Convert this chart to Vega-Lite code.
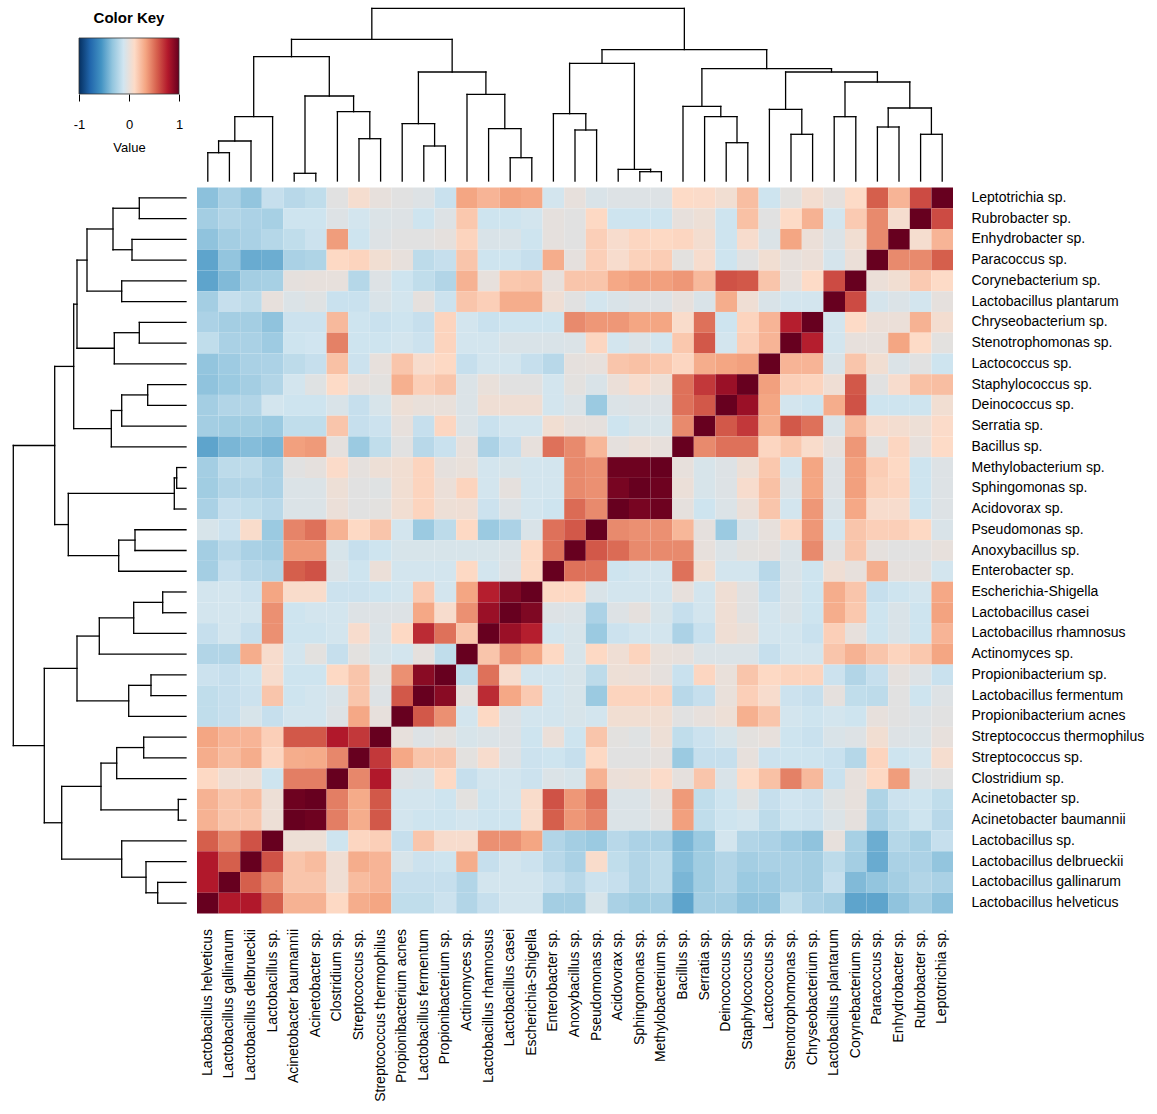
{
  "$schema": "https://vega.github.io/schema/vega-lite/v6.json",
  "padding": {"left": 12, "top": 7, "right": 5, "bottom": 5},
  "background": "white",
  "config": {"view": {"stroke": null}, "font": "Liberation Sans"},
  "columns": 2,
  "align": "each",
  "bounds": "flush",
  "spacing": {"row": 6.5, "column": 11},
  "datasets": {
    "cols": [
      {"k":"c01","col":"Lactobacillus helveticus"},{"k":"c02","col":"Lactobacillus gallinarum"},{"k":"c03","col":"Lactobacillus delbrueckii"},{"k":"c04","col":"Lactobacillus sp."},{"k":"c05","col":"Acinetobacter baumannii"},{"k":"c06","col":"Acinetobacter sp."},{"k":"c07","col":"Clostridium sp."},{"k":"c08","col":"Streptococcus sp."},{"k":"c09","col":"Streptococcus thermophilus"},{"k":"c10","col":"Propionibacterium acnes"},{"k":"c11","col":"Lactobacillus fermentum"},{"k":"c12","col":"Propionibacterium sp."},{"k":"c13","col":"Actinomyces sp."},{"k":"c14","col":"Lactobacillus rhamnosus"},{"k":"c15","col":"Lactobacillus casei"},{"k":"c16","col":"Escherichia-Shigella"},{"k":"c17","col":"Enterobacter sp."},{"k":"c18","col":"Anoxybacillus sp."},{"k":"c19","col":"Pseudomonas sp."},{"k":"c20","col":"Acidovorax sp."},{"k":"c21","col":"Sphingomonas sp."},{"k":"c22","col":"Methylobacterium sp."},{"k":"c23","col":"Bacillus sp."},{"k":"c24","col":"Serratia sp."},{"k":"c25","col":"Deinococcus sp."},{"k":"c26","col":"Staphylococcus sp."},{"k":"c27","col":"Lactococcus sp."},{"k":"c28","col":"Stenotrophomonas sp."},{"k":"c29","col":"Chryseobacterium sp."},{"k":"c30","col":"Lactobacillus plantarum"},{"k":"c31","col":"Corynebacterium sp."},{"k":"c32","col":"Paracoccus sp."},{"k":"c33","col":"Enhydrobacter sp."},{"k":"c34","col":"Rubrobacter sp."},{"k":"c35","col":"Leptotrichia sp."}
    ],
    "matrix": [
      {"row":"Leptotrichia sp.","c01":-0.35,"c02":-0.25,"c03":-0.33,"c04":-0.15,"c05":-0.2,"c06":-0.17,"c07":-0.03,"c08":0.07,"c09":0.0,"c10":-0.03,"c11":-0.05,"c12":-0.14,"c13":0.33,"c14":0.27,"c15":0.34,"c16":0.32,"c17":-0.1,"c18":0.0,"c19":-0.07,"c20":-0.05,"c21":-0.05,"c22":-0.05,"c23":0.11,"c24":0.1,"c25":0.05,"c26":0.23,"c27":-0.12,"c28":-0.02,"c29":0.06,"c30":-0.01,"c31":0.11,"c32":0.56,"c33":0.27,"c34":0.62,"c35":1},
      {"row":"Rubrobacter sp.","c01":-0.27,"c02":-0.22,"c03":-0.24,"c04":-0.26,"c05":-0.12,"c06":-0.12,"c07":-0.05,"c08":-0.1,"c09":-0.06,"c10":-0.05,"c11":-0.12,"c12":-0.05,"c13":0.19,"c14":-0.12,"c15":-0.12,"c16":-0.1,"c17":-0.01,"c18":-0.03,"c19":0.12,"c20":-0.12,"c21":-0.12,"c22":-0.12,"c23":0.0,"c24":0.03,"c25":-0.12,"c26":0.22,"c27":-0.03,"c28":0.11,"c29":0.28,"c30":-0.1,"c31":0.18,"c32":0.42,"c33":0.07,"c34":1,"c35":0.62},
      {"row":"Enhydrobacter sp.","c01":-0.34,"c02":-0.27,"c03":-0.25,"c04":-0.21,"c05":-0.17,"c06":-0.13,"c07":0.36,"c08":-0.12,"c09":-0.05,"c10":-0.03,"c11":-0.03,"c12":-0.01,"c13":0.14,"c14":-0.07,"c15":-0.07,"c16":-0.12,"c17":-0.01,"c18":-0.03,"c19":0.16,"c20":0.08,"c21":0.13,"c22":0.12,"c23":0.13,"c24":0.06,"c25":-0.12,"c26":0.08,"c27":-0.06,"c28":0.33,"c29":0.02,"c30":-0.06,"c31":0.05,"c32":0.42,"c33":1,"c34":0.07,"c35":0.27},
      {"row":"Paracoccus sp.","c01":-0.48,"c02":-0.33,"c03":-0.45,"c04":-0.44,"c05":-0.25,"c06":-0.23,"c07":0.12,"c08":0.14,"c09":0.05,"c10":0.0,"c11":-0.18,"c12":-0.15,"c13":0.2,"c14":-0.12,"c15":-0.12,"c16":-0.15,"c17":0.3,"c18":-0.01,"c19":0.16,"c20":0.08,"c21":0.15,"c22":0.17,"c23":-0.02,"c24":0.08,"c25":-0.12,"c26":-0.03,"c27":0.05,"c28":0.0,"c29":0.02,"c30":-0.09,"c31":0.02,"c32":1,"c33":0.42,"c34":0.42,"c35":0.56},
      {"row":"Corynebacterium sp.","c01":-0.48,"c02":-0.38,"c03":-0.27,"c04":-0.26,"c05":-0.01,"c06":0.0,"c07":0.0,"c08":-0.21,"c09":-0.05,"c10":-0.12,"c11":-0.17,"c12":-0.22,"c13":0.28,"c14":0.0,"c15":0.19,"c16":0.2,"c17":0.0,"c18":0.2,"c19":0.2,"c20":0.32,"c21":0.35,"c22":0.35,"c23":0.38,"c24":0.25,"c25":0.6,"c26":0.58,"c27":0.2,"c28":0.0,"c29":0.11,"c30":0.62,"c31":1,"c32":0.02,"c33":0.05,"c34":0.18,"c35":0.11},
      {"row":"Lactobacillus plantarum","c01":-0.27,"c02":-0.15,"c03":-0.18,"c04":0.0,"c05":-0.06,"c06":-0.04,"c07":-0.14,"c08":-0.14,"c09":-0.07,"c10":-0.1,"c11":-0.01,"c12":-0.13,"c13":0.2,"c14":0.16,"c15":0.3,"c16":0.3,"c17":0.04,"c18":-0.03,"c19":-0.1,"c20":-0.07,"c21":-0.05,"c22":-0.05,"c23":0.0,"c24":-0.07,"c25":0.3,"c26":0.04,"c27":-0.07,"c28":-0.1,"c29":-0.1,"c30":1,"c31":0.62,"c32":-0.09,"c33":-0.06,"c34":-0.1,"c35":-0.01},
      {"row":"Chryseobacterium sp.","c01":-0.24,"c02":-0.27,"c03":-0.27,"c04":-0.34,"c05":-0.13,"c06":-0.13,"c07":0.25,"c08":-0.12,"c09":-0.14,"c10":-0.12,"c11":-0.15,"c12":0.14,"c13":-0.1,"c14":-0.14,"c15":-0.12,"c16":-0.12,"c17":-0.12,"c18":0.42,"c19":0.38,"c20":0.38,"c21":0.33,"c22":0.33,"c23":0.09,"c24":0.5,"c25":-0.12,"c26":0.14,"c27":0.27,"c28":0.76,"c29":1,"c30":-0.1,"c31":0.11,"c32":0.02,"c33":0.02,"c34":0.28,"c35":0.06},
      {"row":"Stenotrophomonas sp.","c01":-0.17,"c02":-0.25,"c03":-0.25,"c04":-0.29,"c05":-0.12,"c06":-0.11,"c07":0.45,"c08":-0.12,"c09":-0.12,"c10":-0.1,"c11":-0.13,"c12":0.14,"c13":-0.1,"c14":-0.1,"c15":-0.07,"c16":-0.07,"c17":-0.07,"c18":-0.06,"c19":0.13,"c20":-0.1,"c21":-0.06,"c22":-0.1,"c23":0.19,"c24":0.58,"c25":-0.1,"c26":0.16,"c27":0.27,"c28":1,"c29":0.76,"c30":-0.1,"c31":0.0,"c32":0.0,"c33":0.33,"c34":0.11,"c35":-0.02},
      {"row":"Lactococcus sp.","c01":-0.33,"c02":-0.29,"c03":-0.25,"c04":-0.24,"c05":-0.18,"c06":-0.15,"c07":0.22,"c08":-0.13,"c09":0.0,"c10":0.2,"c11":0.08,"c12":0.12,"c13":-0.15,"c14":-0.1,"c15":-0.1,"c16":-0.15,"c17":-0.2,"c18":-0.01,"c19":0.0,"c20":0.2,"c21":0.22,"c22":0.19,"c23":0.13,"c24":0.3,"c25":0.33,"c26":0.35,"c27":1,"c28":0.27,"c29":0.27,"c30":-0.07,"c31":0.2,"c32":0.05,"c33":-0.06,"c34":-0.03,"c35":-0.12},
      {"row":"Staphylococcus sp.","c01":-0.34,"c02":-0.3,"c03":-0.27,"c04":-0.22,"c05":-0.1,"c06":-0.04,"c07":0.11,"c08":0.0,"c09":-0.02,"c10":0.29,"c11":0.16,"c12":0.2,"c13":-0.06,"c14":0.01,"c15":-0.03,"c16":-0.03,"c17":-0.1,"c18":-0.02,"c19":-0.07,"c20":0.02,"c21":0.08,"c22":0.03,"c23":0.5,"c24":0.68,"c25":0.85,"c26":1,"c27":0.35,"c28":0.16,"c29":0.14,"c30":0.04,"c31":0.58,"c32":-0.03,"c33":0.08,"c34":0.22,"c35":0.23},
      {"row":"Deinococcus sp.","c01":-0.27,"c02":-0.22,"c03":-0.22,"c04":-0.1,"c05":-0.12,"c06":-0.12,"c07":-0.07,"c08":-0.15,"c09":-0.08,"c10":0.03,"c11":0.01,"c12":0.01,"c13":-0.06,"c14":0.04,"c15":0.04,"c16":0.04,"c17":-0.1,"c18":-0.06,"c19":-0.3,"c20":-0.06,"c21":-0.05,"c22":-0.05,"c23":0.5,"c24":0.58,"c25":1,"c26":0.85,"c27":0.33,"c28":-0.1,"c29":-0.12,"c30":0.3,"c31":0.6,"c32":-0.12,"c33":-0.12,"c34":-0.12,"c35":0.05},
      {"row":"Serratia sp.","c01":-0.27,"c02":-0.28,"c03":-0.28,"c04":-0.3,"c05":-0.17,"c06":-0.17,"c07":0.2,"c08":-0.15,"c09":-0.13,"c10":0.0,"c11":-0.15,"c12":0.13,"c13":-0.06,"c14":-0.14,"c15":-0.1,"c16":-0.1,"c17":0.05,"c18":0.0,"c19":-0.01,"c20":-0.12,"c21":-0.08,"c22":-0.08,"c23":0.42,"c24":1,"c25":0.58,"c26":0.68,"c27":0.3,"c28":0.58,"c29":0.5,"c30":-0.07,"c31":0.25,"c32":0.08,"c33":0.06,"c34":0.03,"c35":0.1},
      {"row":"Bacillus sp.","c01":-0.48,"c02":-0.4,"c03":-0.37,"c04":-0.4,"c05":0.35,"c06":0.37,"c07":-0.01,"c08":-0.3,"c09":-0.17,"c10":-0.03,"c11":-0.2,"c12":-0.14,"c13":0.0,"c14":-0.24,"c15":-0.15,"c16":0.0,"c17":0.5,"c18":0.42,"c19":0.26,"c20":-0.01,"c21":0.02,"c22":0.0,"c23":1,"c24":0.42,"c25":0.5,"c26":0.5,"c27":0.13,"c28":0.19,"c29":0.09,"c30":0.0,"c31":0.38,"c32":-0.02,"c33":0.13,"c34":0.0,"c35":0.11},
      {"row":"Methylobacterium sp.","c01":-0.27,"c02":-0.18,"c03":-0.18,"c04":-0.25,"c05":-0.03,"c06":-0.01,"c07":0.1,"c08":-0.01,"c09":0.03,"c10":0.05,"c11":0.14,"c12":-0.01,"c13":0.01,"c14":-0.1,"c15":-0.08,"c16":-0.1,"c17":-0.1,"c18":0.42,"c19":0.4,"c20":0.98,"c21":0.98,"c22":1,"c23":0.0,"c24":-0.08,"c25":-0.05,"c26":0.03,"c27":0.19,"c28":-0.1,"c29":0.33,"c30":-0.05,"c31":0.35,"c32":0.17,"c33":0.12,"c34":-0.12,"c35":-0.05},
      {"row":"Sphingomonas sp.","c01":-0.28,"c02":-0.22,"c03":-0.22,"c04":-0.24,"c05":-0.06,"c06":-0.06,"c07":0.03,"c08":-0.03,"c09":-0.04,"c10":0.05,"c11":0.14,"c12":0.02,"c13":0.14,"c14":-0.1,"c15":-0.01,"c16":-0.1,"c17":-0.1,"c18":0.42,"c19":0.4,"c20":0.95,"c21":1,"c22":0.98,"c23":0.02,"c24":-0.08,"c25":-0.05,"c26":0.08,"c27":0.22,"c28":-0.06,"c29":0.33,"c30":-0.05,"c31":0.35,"c32":0.15,"c33":0.13,"c34":-0.12,"c35":-0.05},
      {"row":"Acidovorax sp.","c01":-0.25,"c02":-0.15,"c03":-0.17,"c04":-0.2,"c05":-0.06,"c06":-0.06,"c07":0.02,"c08":-0.03,"c09":-0.02,"c10":0.05,"c11":0.14,"c12":0.03,"c13":0.04,"c14":-0.13,"c15":-0.05,"c16":-0.1,"c17":-0.12,"c18":0.52,"c19":0.42,"c20":1,"c21":0.95,"c22":0.98,"c23":-0.01,"c24":-0.12,"c25":-0.06,"c26":0.02,"c27":0.2,"c28":-0.1,"c29":0.38,"c30":-0.07,"c31":0.32,"c32":0.08,"c33":0.08,"c34":-0.12,"c35":-0.05},
      {"row":"Pseudomonas sp.","c01":-0.08,"c02":-0.13,"c03":0.09,"c04":-0.3,"c05":0.44,"c06":0.5,"c07":0.28,"c08":0.12,"c09":0.2,"c10":-0.1,"c11":-0.3,"c12":-0.18,"c13":0.12,"c14":-0.3,"c15":-0.24,"c16":-0.07,"c17":0.5,"c18":0.58,"c19":1,"c20":0.42,"c21":0.4,"c22":0.4,"c23":0.26,"c24":-0.01,"c25":-0.3,"c26":-0.07,"c27":0.0,"c28":0.13,"c29":0.38,"c30":-0.1,"c31":0.2,"c32":0.16,"c33":0.16,"c34":0.12,"c35":-0.07},
      {"row":"Anoxybacillus sp.","c01":-0.27,"c02":-0.2,"c03":-0.25,"c04":-0.27,"c05":0.38,"c06":0.38,"c07":-0.08,"c08":-0.15,"c09":-0.12,"c10":-0.08,"c11":-0.08,"c12":-0.08,"c13":-0.08,"c14":-0.08,"c15":-0.06,"c16":0.12,"c17":0.5,"c18":1,"c19":0.58,"c20":0.52,"c21":0.42,"c22":0.42,"c23":0.42,"c24":0.0,"c25":-0.06,"c26":-0.02,"c27":-0.01,"c28":-0.06,"c29":0.42,"c30":-0.03,"c31":0.2,"c32":-0.01,"c33":-0.03,"c34":-0.03,"c35":0.0},
      {"row":"Enterobacter sp.","c01":-0.27,"c02":-0.15,"c03":-0.2,"c04":-0.22,"c05":0.56,"c06":0.6,"c07":-0.06,"c08":-0.12,"c09":0.02,"c10":-0.1,"c11":-0.1,"c12":-0.1,"c13":0.12,"c14":-0.1,"c15":-0.05,"c16":0.12,"c17":1,"c18":0.5,"c19":0.5,"c20":-0.12,"c21":-0.1,"c22":-0.1,"c23":0.5,"c24":0.05,"c25":-0.1,"c26":-0.1,"c27":-0.2,"c28":-0.07,"c29":-0.12,"c30":0.04,"c31":0.0,"c32":0.3,"c33":-0.01,"c34":-0.01,"c35":-0.1},
      {"row":"Escherichia-Shigella","c01":-0.1,"c02":-0.1,"c03":-0.13,"c04":0.33,"c05":0.09,"c06":0.09,"c07":-0.13,"c08":-0.13,"c09":-0.12,"c10":-0.1,"c11":0.18,"c12":-0.1,"c13":0.33,"c14":0.76,"c15":0.93,"c16":1,"c17":0.12,"c18":0.12,"c19":-0.07,"c20":-0.1,"c21":-0.1,"c22":-0.1,"c23":0.0,"c24":-0.1,"c25":0.04,"c26":-0.03,"c27":-0.15,"c28":-0.07,"c29":-0.12,"c30":0.3,"c31":0.2,"c32":-0.15,"c33":-0.12,"c34":-0.1,"c35":0.32},
      {"row":"Lactobacillus casei","c01":-0.1,"c02":-0.1,"c03":-0.1,"c04":0.4,"c05":-0.12,"c06":-0.1,"c07":-0.1,"c08":-0.05,"c09":-0.05,"c10":-0.05,"c11":0.32,"c12":0.08,"c13":0.4,"c14":0.85,"c15":1,"c16":0.93,"c17":-0.05,"c18":-0.06,"c19":-0.24,"c20":-0.05,"c21":-0.01,"c22":-0.08,"c23":-0.15,"c24":-0.1,"c25":0.04,"c26":-0.03,"c27":-0.1,"c28":-0.07,"c29":-0.12,"c30":0.3,"c31":0.19,"c32":-0.12,"c33":-0.07,"c34":-0.12,"c35":0.34},
      {"row":"Lactobacillus rhamnosus","c01":-0.15,"c02":-0.1,"c03":-0.15,"c04":0.4,"c05":-0.12,"c06":-0.12,"c07":-0.1,"c08":0.08,"c09":-0.06,"c10":0.12,"c11":0.72,"c12":0.5,"c13":0.2,"c14":1,"c15":0.85,"c16":0.76,"c17":-0.1,"c18":-0.08,"c19":-0.3,"c20":-0.13,"c21":-0.1,"c22":-0.1,"c23":-0.24,"c24":-0.14,"c25":0.04,"c26":0.01,"c27":-0.1,"c28":-0.1,"c29":-0.14,"c30":0.16,"c31":0.0,"c32":-0.12,"c33":-0.07,"c34":-0.12,"c35":0.27},
      {"row":"Actinomyces sp.","c01":-0.22,"c02":-0.22,"c03":0.3,"c04":0.08,"c05":-0.1,"c06":-0.02,"c07":-0.15,"c08":-0.02,"c09":-0.08,"c10":-0.1,"c11":-0.01,"c12":-0.17,"c13":1,"c14":0.2,"c15":0.4,"c16":0.33,"c17":0.12,"c18":-0.08,"c19":0.12,"c20":0.04,"c21":0.14,"c22":0.01,"c23":0.0,"c24":-0.06,"c25":-0.06,"c26":-0.06,"c27":-0.15,"c28":-0.1,"c29":-0.1,"c30":0.2,"c31":0.28,"c32":0.2,"c33":0.14,"c34":0.19,"c35":0.33},
      {"row":"Propionibacterium sp.","c01":-0.13,"c02":-0.15,"c03":-0.12,"c04":0.08,"c05":-0.12,"c06":-0.12,"c07":0.12,"c08":0.2,"c09":-0.02,"c10":0.4,"c11":0.9,"c12":1,"c13":-0.17,"c14":0.5,"c15":0.08,"c16":-0.1,"c17":-0.1,"c18":-0.08,"c19":-0.18,"c20":0.03,"c21":0.02,"c22":-0.01,"c23":-0.14,"c24":0.13,"c25":0.01,"c26":0.2,"c27":0.12,"c28":0.14,"c29":0.14,"c30":-0.13,"c31":-0.22,"c32":-0.15,"c33":-0.01,"c34":-0.05,"c35":-0.14},
      {"row":"Lactobacillus fermentum","c01":-0.17,"c02":-0.15,"c03":-0.13,"c04":0.2,"c05":-0.12,"c06":-0.1,"c07":-0.07,"c08":0.2,"c09":-0.05,"c10":0.58,"c11":1,"c12":0.9,"c13":-0.01,"c14":0.72,"c15":0.32,"c16":0.18,"c17":-0.1,"c18":-0.08,"c19":-0.3,"c20":0.14,"c21":0.14,"c22":0.14,"c23":-0.2,"c24":-0.15,"c25":0.01,"c26":0.16,"c27":0.08,"c28":-0.13,"c29":-0.15,"c30":-0.01,"c31":-0.17,"c32":-0.18,"c33":-0.03,"c34":-0.12,"c35":-0.05},
      {"row":"Propionibacterium acnes","c01":-0.17,"c02":-0.15,"c03":-0.08,"c04":-0.15,"c05":-0.1,"c06":-0.1,"c07":-0.05,"c08":0.32,"c09":0.0,"c10":1,"c11":0.58,"c12":0.4,"c13":-0.1,"c14":0.12,"c15":-0.05,"c16":-0.1,"c17":-0.1,"c18":-0.08,"c19":-0.1,"c20":0.05,"c21":0.05,"c22":0.05,"c23":-0.03,"c24":0.0,"c25":0.03,"c26":0.29,"c27":0.2,"c28":-0.1,"c29":-0.12,"c30":-0.1,"c31":-0.12,"c32":0.0,"c33":-0.03,"c34":-0.05,"c35":-0.03},
      {"row":"Streptococcus thermophilus","c01":0.33,"c02":0.27,"c03":0.27,"c04":0.16,"c05":0.58,"c06":0.58,"c07":0.78,"c08":0.68,"c09":1,"c10":0.0,"c11":-0.05,"c12":-0.02,"c13":-0.08,"c14":-0.06,"c15":-0.05,"c16":-0.12,"c17":0.02,"c18":-0.12,"c19":0.2,"c20":-0.02,"c21":-0.04,"c22":0.03,"c23":-0.17,"c24":-0.13,"c25":-0.08,"c26":-0.02,"c27":0.0,"c28":-0.12,"c29":-0.14,"c30":-0.07,"c31":-0.05,"c32":0.05,"c33":-0.05,"c34":-0.06,"c35":0.0},
      {"row":"Streptococcus sp.","c01":0.3,"c02":0.24,"c03":0.3,"c04":0.13,"c05":0.3,"c06":0.31,"c07":0.43,"c08":1,"c09":0.68,"c10":0.32,"c11":0.2,"c12":0.2,"c13":-0.02,"c14":0.08,"c15":-0.05,"c16":-0.13,"c17":-0.12,"c18":-0.15,"c19":0.12,"c20":-0.03,"c21":-0.03,"c22":-0.01,"c23":-0.3,"c24":-0.15,"c25":-0.15,"c26":0.0,"c27":-0.13,"c28":-0.12,"c29":-0.12,"c30":-0.14,"c31":-0.21,"c32":0.14,"c33":-0.12,"c34":-0.1,"c35":0.07},
      {"row":"Clostridium sp.","c01":0.12,"c02":0.04,"c03":0.04,"c04":-0.12,"c05":0.46,"c06":0.46,"c07":1,"c08":0.43,"c09":0.78,"c10":-0.05,"c11":-0.07,"c12":0.12,"c13":-0.15,"c14":-0.1,"c15":-0.1,"c16":-0.13,"c17":-0.06,"c18":-0.08,"c19":0.28,"c20":0.02,"c21":0.03,"c22":0.1,"c23":-0.01,"c24":0.2,"c25":-0.07,"c26":0.11,"c27":0.22,"c28":0.45,"c29":0.25,"c30":-0.14,"c31":0.0,"c32":0.12,"c33":0.36,"c34":-0.05,"c35":-0.03},
      {"row":"Acinetobacter sp.","c01":0.28,"c02":0.2,"c03":0.24,"c04":0.03,"c05":0.98,"c06":1,"c07":0.46,"c08":0.31,"c09":0.58,"c10":-0.1,"c11":-0.1,"c12":-0.12,"c13":-0.02,"c14":-0.12,"c15":-0.1,"c16":0.09,"c17":0.6,"c18":0.38,"c19":0.5,"c20":-0.06,"c21":-0.06,"c22":-0.01,"c23":0.37,"c24":-0.17,"c25":-0.12,"c26":-0.04,"c27":-0.15,"c28":-0.11,"c29":-0.13,"c30":-0.04,"c31":0.0,"c32":-0.23,"c33":-0.13,"c34":-0.12,"c35":-0.17},
      {"row":"Acinetobacter baumannii","c01":0.28,"c02":0.2,"c03":0.2,"c04":0.03,"c05":1,"c06":0.98,"c07":0.46,"c08":0.3,"c09":0.58,"c10":-0.1,"c11":-0.12,"c12":-0.12,"c13":-0.1,"c14":-0.12,"c15":-0.12,"c16":0.09,"c17":0.56,"c18":0.38,"c19":0.44,"c20":-0.06,"c21":-0.06,"c22":-0.03,"c23":0.35,"c24":-0.17,"c25":-0.12,"c26":-0.1,"c27":-0.18,"c28":-0.12,"c29":-0.13,"c30":-0.06,"c31":-0.01,"c32":-0.25,"c33":-0.17,"c34":-0.12,"c35":-0.2},
      {"row":"Lactobacillus sp.","c01":0.56,"c02":0.42,"c03":0.6,"c04":1,"c05":0.03,"c06":0.03,"c07":-0.12,"c08":0.13,"c09":0.16,"c10":-0.15,"c11":0.2,"c12":0.08,"c13":0.08,"c14":0.4,"c15":0.4,"c16":0.33,"c17":-0.22,"c18":-0.27,"c19":-0.3,"c20":-0.2,"c21":-0.24,"c22":-0.25,"c23":-0.4,"c24":-0.3,"c25":-0.1,"c26":-0.22,"c27":-0.24,"c28":-0.29,"c29":-0.34,"c30":0.0,"c31":-0.26,"c32":-0.44,"c33":-0.21,"c34":-0.26,"c35":-0.15},
      {"row":"Lactobacillus delbrueckii","c01":0.78,"c02":0.56,"c03":1,"c04":0.6,"c05":0.2,"c06":0.24,"c07":0.04,"c08":0.3,"c09":0.27,"c10":-0.08,"c11":-0.13,"c12":-0.12,"c13":0.3,"c14":-0.15,"c15":-0.1,"c16":-0.13,"c17":-0.2,"c18":-0.25,"c19":0.09,"c20":-0.17,"c21":-0.22,"c22":-0.18,"c23":-0.37,"c24":-0.28,"c25":-0.22,"c26":-0.27,"c27":-0.25,"c28":-0.25,"c29":-0.27,"c30":-0.18,"c31":-0.27,"c32":-0.45,"c33":-0.25,"c34":-0.24,"c35":-0.33},
      {"row":"Lactobacillus gallinarum","c01":0.78,"c02":1,"c03":0.56,"c04":0.42,"c05":0.2,"c06":0.2,"c07":0.04,"c08":0.24,"c09":0.27,"c10":-0.15,"c11":-0.15,"c12":-0.15,"c13":-0.22,"c14":-0.1,"c15":-0.1,"c16":-0.1,"c17":-0.15,"c18":-0.2,"c19":-0.13,"c20":-0.15,"c21":-0.22,"c22":-0.18,"c23":-0.4,"c24":-0.28,"c25":-0.22,"c26":-0.3,"c27":-0.29,"c28":-0.25,"c29":-0.27,"c30":-0.15,"c31":-0.38,"c32":-0.33,"c33":-0.27,"c34":-0.22,"c35":-0.25},
      {"row":"Lactobacillus helveticus","c01":1,"c02":0.78,"c03":0.78,"c04":0.56,"c05":0.28,"c06":0.28,"c07":0.12,"c08":0.3,"c09":0.33,"c10":-0.17,"c11":-0.17,"c12":-0.13,"c13":-0.22,"c14":-0.15,"c15":-0.1,"c16":-0.1,"c17":-0.27,"c18":-0.27,"c19":-0.08,"c20":-0.25,"c21":-0.28,"c22":-0.27,"c23":-0.48,"c24":-0.27,"c25":-0.27,"c26":-0.34,"c27":-0.33,"c28":-0.17,"c29":-0.24,"c30":-0.27,"c31":-0.48,"c32":-0.48,"c33":-0.34,"c34":-0.27,"c35":-0.35}
    ],
    "tree": [
      {"p1":0.5,"p2":1.5,"h1":28.3,"h2":28.3},{"p1":0.5,"p2":0.5,"h1":0,"h2":28.3},{"p1":1.5,"p2":1.5,"h1":0,"h2":28.3},
      {"p1":1,"p2":2.5,"h1":40,"h2":40},{"p1":1,"p2":1,"h1":28.3,"h2":40},{"p1":2.5,"p2":2.5,"h1":0,"h2":40},
      {"p1":1.75,"p2":3.5,"h1":64.3,"h2":64.3},{"p1":1.75,"p2":1.75,"h1":40,"h2":64.3},{"p1":3.5,"p2":3.5,"h1":0,"h2":64.3},
      {"p1":4.5,"p2":5.5,"h1":7.7,"h2":7.7},{"p1":4.5,"p2":4.5,"h1":0,"h2":7.7},{"p1":5.5,"p2":5.5,"h1":0,"h2":7.7},
      {"p1":7.5,"p2":8.5,"h1":42.3,"h2":42.3},{"p1":7.5,"p2":7.5,"h1":0,"h2":42.3},{"p1":8.5,"p2":8.5,"h1":0,"h2":42.3},
      {"p1":6.5,"p2":8,"h1":69.3,"h2":69.3},{"p1":6.5,"p2":6.5,"h1":0,"h2":69.3},{"p1":8,"p2":8,"h1":42.3,"h2":69.3},
      {"p1":5,"p2":7.25,"h1":85,"h2":85},{"p1":5,"p2":5,"h1":7.7,"h2":85},{"p1":7.25,"p2":7.25,"h1":69.3,"h2":85},
      {"p1":2.625,"p2":6.125,"h1":124.3,"h2":124.3},{"p1":2.625,"p2":2.625,"h1":64.3,"h2":124.3},{"p1":6.125,"p2":6.125,"h1":85,"h2":124.3},
      {"p1":10.5,"p2":11.5,"h1":35,"h2":35},{"p1":10.5,"p2":10.5,"h1":0,"h2":35},{"p1":11.5,"p2":11.5,"h1":0,"h2":35},
      {"p1":9.5,"p2":11,"h1":57.3,"h2":57.3},{"p1":9.5,"p2":9.5,"h1":0,"h2":57.3},{"p1":11,"p2":11,"h1":35,"h2":57.3},
      {"p1":14.5,"p2":15.5,"h1":23.3,"h2":23.3},{"p1":14.5,"p2":14.5,"h1":0,"h2":23.3},{"p1":15.5,"p2":15.5,"h1":0,"h2":23.3},
      {"p1":13.5,"p2":15,"h1":52.3,"h2":52.3},{"p1":13.5,"p2":13.5,"h1":0,"h2":52.3},{"p1":15,"p2":15,"h1":23.3,"h2":52.3},
      {"p1":12.5,"p2":14.25,"h1":86.7,"h2":86.7},{"p1":12.5,"p2":12.5,"h1":0,"h2":86.7},{"p1":14.25,"p2":14.25,"h1":52.3,"h2":86.7},
      {"p1":10.25,"p2":13.375,"h1":109,"h2":109},{"p1":10.25,"p2":10.25,"h1":57.3,"h2":109},{"p1":13.375,"p2":13.375,"h1":86.7,"h2":109},
      {"p1":4.375,"p2":11.8125,"h1":141.7,"h2":141.7},{"p1":4.375,"p2":4.375,"h1":124.3,"h2":141.7},{"p1":11.8125,"p2":11.8125,"h1":109,"h2":141.7},
      {"p1":17.5,"p2":18.5,"h1":51,"h2":51},{"p1":17.5,"p2":17.5,"h1":0,"h2":51},{"p1":18.5,"p2":18.5,"h1":0,"h2":51},
      {"p1":16.5,"p2":18,"h1":67.3,"h2":67.3},{"p1":16.5,"p2":16.5,"h1":0,"h2":67.3},{"p1":18,"p2":18,"h1":51,"h2":67.3},
      {"p1":20.5,"p2":21.5,"h1":9.3,"h2":9.3},{"p1":20.5,"p2":20.5,"h1":0,"h2":9.3},{"p1":21.5,"p2":21.5,"h1":0,"h2":9.3},
      {"p1":19.5,"p2":21,"h1":11.7,"h2":11.7},{"p1":19.5,"p2":19.5,"h1":0,"h2":11.7},{"p1":21,"p2":21,"h1":9.3,"h2":11.7},
      {"p1":17.25,"p2":20.25,"h1":117.7,"h2":117.7},{"p1":17.25,"p2":17.25,"h1":67.3,"h2":117.7},{"p1":20.25,"p2":20.25,"h1":11.7,"h2":117.7},
      {"p1":24.5,"p2":25.5,"h1":38.3,"h2":38.3},{"p1":24.5,"p2":24.5,"h1":0,"h2":38.3},{"p1":25.5,"p2":25.5,"h1":0,"h2":38.3},
      {"p1":23.5,"p2":25,"h1":64.3,"h2":64.3},{"p1":23.5,"p2":23.5,"h1":0,"h2":64.3},{"p1":25,"p2":25,"h1":38.3,"h2":64.3},
      {"p1":22.5,"p2":24.25,"h1":74.7,"h2":74.7},{"p1":22.5,"p2":22.5,"h1":0,"h2":74.7},{"p1":24.25,"p2":24.25,"h1":64.3,"h2":74.7},
      {"p1":27.5,"p2":28.5,"h1":46.7,"h2":46.7},{"p1":27.5,"p2":27.5,"h1":0,"h2":46.7},{"p1":28.5,"p2":28.5,"h1":0,"h2":46.7},
      {"p1":26.5,"p2":28,"h1":71.7,"h2":71.7},{"p1":26.5,"p2":26.5,"h1":0,"h2":71.7},{"p1":28,"p2":28,"h1":46.7,"h2":71.7},
      {"p1":29.5,"p2":30.5,"h1":64.3,"h2":64.3},{"p1":29.5,"p2":29.5,"h1":0,"h2":64.3},{"p1":30.5,"p2":30.5,"h1":0,"h2":64.3},
      {"p1":31.5,"p2":32.5,"h1":54,"h2":54},{"p1":31.5,"p2":31.5,"h1":0,"h2":54},{"p1":32.5,"p2":32.5,"h1":0,"h2":54},
      {"p1":33.5,"p2":34.5,"h1":46.7,"h2":46.7},{"p1":33.5,"p2":33.5,"h1":0,"h2":46.7},{"p1":34.5,"p2":34.5,"h1":0,"h2":46.7},
      {"p1":32,"p2":34,"h1":73,"h2":73},{"p1":32,"p2":32,"h1":54,"h2":73},{"p1":34,"p2":34,"h1":46.7,"h2":73},
      {"p1":30,"p2":33,"h1":99,"h2":99},{"p1":30,"p2":30,"h1":64.3,"h2":99},{"p1":33,"p2":33,"h1":73,"h2":99},
      {"p1":27.25,"p2":31.5,"h1":109,"h2":109},{"p1":27.25,"p2":27.25,"h1":71.7,"h2":109},{"p1":31.5,"p2":31.5,"h1":99,"h2":109},
      {"p1":23.375,"p2":29.375,"h1":112.3,"h2":112.3},{"p1":23.375,"p2":23.375,"h1":74.7,"h2":112.3},{"p1":29.375,"p2":29.375,"h1":109,"h2":112.3},
      {"p1":18.75,"p2":26.375,"h1":131.3,"h2":131.3},{"p1":18.75,"p2":18.75,"h1":117.7,"h2":131.3},{"p1":26.375,"p2":26.375,"h1":112.3,"h2":131.3},
      {"p1":8.09375,"p2":22.5625,"h1":172.7,"h2":172.7},{"p1":8.09375,"p2":8.09375,"h1":141.7,"h2":172.7},{"p1":22.5625,"p2":22.5625,"h1":131.3,"h2":172.7}
    ]
  },
  "concat": [
    {
      "width": 173, "height": 173,
      "data": {"values": [{"lo": -1, "hi": 1, "b": 0, "t": 1}]},
      "title": {"text": "Color Key", "fontSize": 15, "fontWeight": "bold", "dx": 29.5, "offset": -18, "color": "black"},
      "mark": {"type": "rect", "stroke": "#333333", "strokeWidth": 0.8,
        "fill": {"gradient": "linear", "stops": [
          {"offset": 0, "color": "#053061"}, {"offset": 0.1111, "color": "#2166ac"}, {"offset": 0.2222, "color": "#4393c3"},
          {"offset": 0.3333, "color": "#92c5de"}, {"offset": 0.4444, "color": "#d1e5f0"}, {"offset": 0.5556, "color": "#fddbc7"},
          {"offset": 0.6667, "color": "#f4a582"}, {"offset": 0.7778, "color": "#d6604d"}, {"offset": 0.8889, "color": "#b2182b"},
          {"offset": 1, "color": "#67001f"}]}},
      "encoding": {
        "x": {"field": "lo", "type": "quantitative", "scale": {"domain": [-2.32, 1.14], "nice": false, "zero": false},
          "axis": {"values": [-1, 0, 1], "labelExpr": "'' + datum.value", "domain": false, "grid": false, "offset": -87, "tickSize": 7, "tickColor": "black",
            "labelFontSize": 13, "labelColor": "black", "labelPadding": 17, "title": "Value", "titleFontSize": 13,
            "titleFontWeight": "normal", "titleColor": "black", "titleX": 116, "titlePadding": 10}},
        "x2": {"field": "hi"},
        "y": {"field": "b", "type": "quantitative", "scale": {"domain": [-1.5536, 1.5357], "nice": false, "zero": false}, "axis": null},
        "y2": {"field": "t"}
      }
    },
    {
      "width": 756, "height": 173,
      "data": {"name": "tree"},
      "mark": {"type": "rule", "color": "black", "strokeWidth": 1.3, "strokeCap": "square"},
      "encoding": {
        "x": {"field": "p1", "type": "quantitative", "scale": {"domain": [0, 35], "nice": false, "zero": false}, "axis": null},
        "x2": {"field": "p2"},
        "y": {"field": "h1", "type": "quantitative", "scale": {"domain": [0, 173], "nice": false, "zero": false}, "axis": null},
        "y2": {"field": "h2"}
      }
    },
    {
      "width": 173, "height": 726,
      "data": {"name": "tree"},
      "mark": {"type": "rule", "color": "black", "strokeWidth": 1.3, "strokeCap": "square"},
      "encoding": {
        "y": {"field": "p1", "type": "quantitative", "scale": {"domain": [0, 35], "nice": false, "zero": false}, "axis": null},
        "y2": {"field": "p2"},
        "x": {"field": "h1", "type": "quantitative", "scale": {"domain": [0, 173], "nice": false, "zero": false, "reverse": true}, "axis": null},
        "x2": {"field": "h2"}
      }
    },
    {
      "width": 756, "height": 726,
      "data": {"name": "matrix"},
      "transform": [
        {"fold": ["c01","c02","c03","c04","c05","c06","c07","c08","c09","c10","c11","c12","c13","c14","c15","c16","c17","c18","c19","c20","c21","c22","c23","c24","c25","c26","c27","c28","c29","c30","c31","c32","c33","c34","c35"], "as": ["k", "v"]},
        {"lookup": "k", "from": {"data": {"name": "cols"}, "key": "k", "fields": ["col"]}}
      ],
      "mark": {"type": "rect"},
      "encoding": {
        "x": {"field": "col", "type": "nominal",
          "sort": ["Lactobacillus helveticus","Lactobacillus gallinarum","Lactobacillus delbrueckii","Lactobacillus sp.","Acinetobacter baumannii","Acinetobacter sp.","Clostridium sp.","Streptococcus sp.","Streptococcus thermophilus","Propionibacterium acnes","Lactobacillus fermentum","Propionibacterium sp.","Actinomyces sp.","Lactobacillus rhamnosus","Lactobacillus casei","Escherichia-Shigella","Enterobacter sp.","Anoxybacillus sp.","Pseudomonas sp.","Acidovorax sp.","Sphingomonas sp.","Methylobacterium sp.","Bacillus sp.","Serratia sp.","Deinococcus sp.","Staphylococcus sp.","Lactococcus sp.","Stenotrophomonas sp.","Chryseobacterium sp.","Lactobacillus plantarum","Corynebacterium sp.","Paracoccus sp.","Enhydrobacter sp.","Rubrobacter sp.","Leptotrichia sp."],
          "scale": {"paddingInner": 0, "paddingOuter": 0},
          "axis": {"orient": "bottom", "title": null, "labelAngle": -90, "labelFontSize": 14, "labelPadding": 15, "ticks": false, "domain": false, "labelColor": "black", "labelLimit": 400, "labelOverlap": false}},
        "y": {"field": "row", "type": "nominal",
          "sort": ["Leptotrichia sp.","Rubrobacter sp.","Enhydrobacter sp.","Paracoccus sp.","Corynebacterium sp.","Lactobacillus plantarum","Chryseobacterium sp.","Stenotrophomonas sp.","Lactococcus sp.","Staphylococcus sp.","Deinococcus sp.","Serratia sp.","Bacillus sp.","Methylobacterium sp.","Sphingomonas sp.","Acidovorax sp.","Pseudomonas sp.","Anoxybacillus sp.","Enterobacter sp.","Escherichia-Shigella","Lactobacillus casei","Lactobacillus rhamnosus","Actinomyces sp.","Propionibacterium sp.","Lactobacillus fermentum","Propionibacterium acnes","Streptococcus thermophilus","Streptococcus sp.","Clostridium sp.","Acinetobacter sp.","Acinetobacter baumannii","Lactobacillus sp.","Lactobacillus delbrueckii","Lactobacillus gallinarum","Lactobacillus helveticus"],
          "scale": {"paddingInner": 0, "paddingOuter": 0},
          "axis": {"orient": "right", "title": null, "labelFontSize": 14, "labelPadding": 18, "ticks": false, "domain": false, "labelColor": "black", "labelLimit": 400, "labelOverlap": false}},
        "color": {"field": "v", "type": "quantitative", "legend": null,
          "scale": {"domain": [-1, -0.7778, -0.5556, -0.3333, -0.1111, 0.1111, 0.3333, 0.5556, 0.7778, 1],
            "range": ["#053061", "#2166ac", "#4393c3", "#92c5de", "#d1e5f0", "#fddbc7", "#f4a582", "#d6604d", "#b2182b", "#67001f"],
            "interpolate": "rgb"}}
      }
    }
  ]
}
